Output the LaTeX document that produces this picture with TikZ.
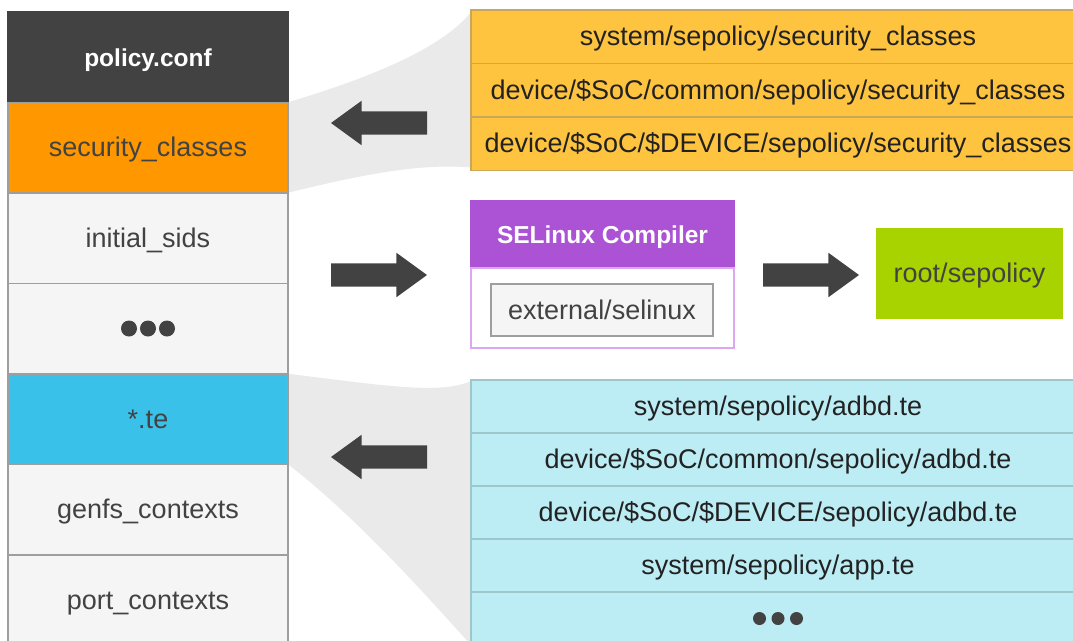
\documentclass[tikz,border=0pt]{standalone}
\usepackage{fontspec}
\setmainfont{Liberation Sans}
\usetikzlibrary{positioning,shapes.arrows,backgrounds}

\definecolor{cdark}{HTML}{424242}
\definecolor{cline}{HTML}{9E9E9E}
\definecolor{clight}{HTML}{F5F5F5}
\definecolor{corange}{HTML}{FF9800}
\definecolor{ccyan}{HTML}{3AC1E9}
\definecolor{cyellow}{HTML}{FFC43F}
\definecolor{cyline}{HTML}{C9A65A}
\definecolor{clcyan}{HTML}{BDEDF4}
\definecolor{ccline}{HTML}{9FC6CB}
\definecolor{cpurple}{HTML}{AB52D5}
\definecolor{cplight}{HTML}{DCA6F0}
\definecolor{cgreen}{HTML}{A9D300}
\definecolor{cwedge}{HTML}{EAEAEA}
\definecolor{ctext}{HTML}{222222}

\tikzset{
  row/.style={draw=cline, line width=1.5pt, fill=clight, minimum width=280pt,
    minimum height=90.5pt, inner sep=0pt, outer sep=0pt, text=cdark,
    text height=22pt, text depth=4pt, font=\fontsize{27}{32}\selectfont},
  yrow/.style={draw=cyline, line width=1.5pt, fill=cyellow, minimum width=614pt,
    minimum height=53.5pt, inner sep=0pt, outer sep=0pt, text=ctext,
    text height=22pt, text depth=4pt, font=\fontsize{27}{32}\selectfont},
  crow/.style={yrow, draw=ccline, fill=clcyan, minimum height=53pt},
  fatarrow/.style={single arrow, fill=cdark, minimum height=96pt, minimum width=44pt,
    single arrow head extend=10.5pt, single arrow tip angle=72, inner xsep=0pt,
    inner ysep=11.5pt, outer sep=0pt, anchor=tail},
  boldtext/.style={text=white, font=\fontsize{24.5}{30}\selectfont\bfseries}
}

\begin{document}
\begin{tikzpicture}[x=1pt,y=-1pt]
\clip (0,0) rectangle (1073,640);

% left column
\node[row, fill=cdark, draw=cdark, boldtext] (conf) at (148,57) {policy.conf};
\node[row, fill=corange, below=0pt of conf] (secclass) {security\_classes};
\node[row, below=0pt of secclass] (sids) {initial\_sids};
\node[row, below=0pt of sids] (dotsleft) {};
\node[row, fill=ccyan, below=0pt of dotsleft] (te) {*.te};
\node[row, below=0pt of te] (genfs) {genfs\_contexts};
\node[row, below=0pt of genfs] (port) {port\_contexts};
\foreach \dx in {-19,0,19}
  \fill[cdark] ([xshift=\dx pt]dotsleft.center) circle[radius=8];

% security_classes sources
\node[yrow] (sc1) at (778,36.75) {system/sepolicy/security\_classes};
\node[yrow, below=0pt of sc1] (sc2) {device/\$SoC/common/sepolicy/security\_classes};
\node[yrow, below=0pt of sc2] (sc3) {device/\$SoC/\$DEVICE/sepolicy/security\_classes};

% te sources
\node[crow] (ad1) at (778,406.5) {system/sepolicy/adbd.te};
\node[crow, below=0pt of ad1] (ad2) {device/\$SoC/common/sepolicy/adbd.te};
\node[crow, below=0pt of ad2] (ad3) {device/\$SoC/\$DEVICE/sepolicy/adbd.te};
\node[crow, below=0pt of ad3] (ad4) {system/sepolicy/app.te};
\node[crow, below=0pt of ad4] (ad5) {};
\foreach \dx in {-18.5,0,18.5}
  \fill[cdark] ([xshift=\dx pt]ad5.center) circle[radius=6.5];

% compiler
\node[row, fill=cpurple, draw=cpurple, boldtext, minimum width=263pt, minimum height=67pt] (comp) at (602.5,234.5) {SELinux Compiler};
\node[row, fill=white, draw=cplight, minimum width=263pt, minimum height=80pt, below=0pt of comp] (compbody) {};
\node[row, minimum width=222pt, minimum height=52pt] (ext) at (602,310) {external/selinux};
\node[row, fill=cgreen, draw=cgreen, minimum width=185pt, minimum height=89pt] (out) at (969.5,273.5) {root/sepolicy};

% fat arrows
\node[fatarrow, shape border rotate=180] (arrsec) at (427,123) {};
\node[fatarrow] (arrcomp) at (331,275) {};
\node[fatarrow] (arrout) at (763,275) {};
\node[fatarrow, shape border rotate=180] (arrte) at (427,457) {};

% wedges
\begin{scope}[on background layer]
\fill[cwedge] (secclass.north east) .. controls (380,75) and (445,45) .. ([yshift=-2pt]sc1.north west)
  -- ([yshift=3pt]sc3.south west) .. controls (420,163) and (360,175) .. (secclass.south east) -- cycle;
\fill[cwedge] (te.north east) .. controls (380,385) and (440,395) .. ([yshift=-1pt]ad1.north west)
  -- (ad5.south west) .. controls (430,600) and (360,520) .. (te.south east) -- cycle;
\end{scope}
\end{tikzpicture}
\end{document}
